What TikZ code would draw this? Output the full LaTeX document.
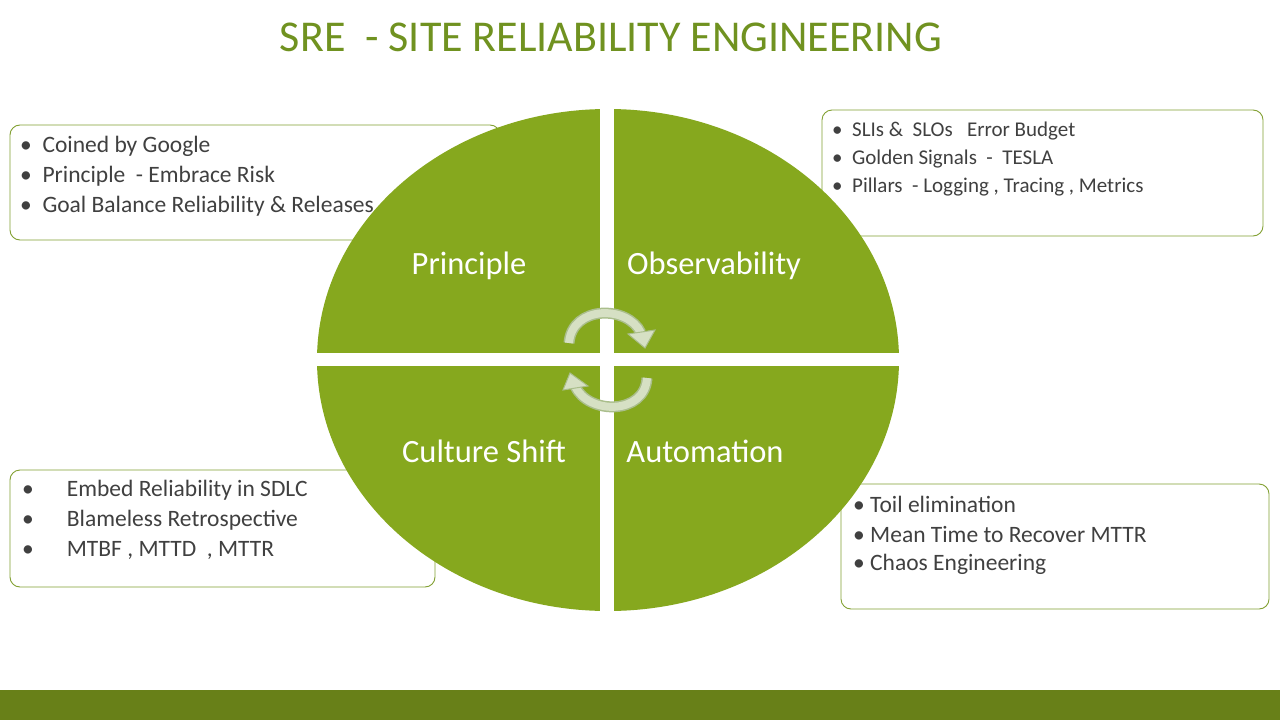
\documentclass[tikz,border=0pt]{standalone}
\usepackage{fontspec}
\setmainfont{Carlito}
\usetikzlibrary{arrows.meta}
\definecolor{grn}{RGB}{134,168,30}
\definecolor{ttl}{RGB}{112,146,32}
\definecolor{bar}{RGB}{104,128,24}
\definecolor{boxc}{RGB}{130,160,50}
\definecolor{txt}{RGB}{64,64,64}
\definecolor{arr}{RGB}{214,224,196}
\definecolor{arrd}{RGB}{170,190,140}
\tikzset{infobox/.style={draw=boxc,line width=0.9pt,rounded corners=10pt,fill=white},
 item/.style={anchor=west,text=txt,font=\fontsize{23.5}{26}\selectfont,inner sep=0pt},
 smitem/.style={item,font=\fontsize{21}{24}\selectfont},
 quad/.style={text=white,font=\fontsize{32.5}{36}\selectfont,inner sep=0pt},
 cyc/.style={draw=arrd,line width=11pt},
 cycin/.style={draw=arr,line width=8pt}}
\begin{document}
\begin{tikzpicture}[x=1pt,y=-1pt]
\useasboundingbox (0,0) rectangle (1280,720);
\fill[white] (0,0) rectangle (1280,720);
\fill[bar] (0,690) rectangle (1280,720);
\node[text=ttl,font=\fontsize{44}{48}\selectfont,inner sep=0pt] (title) at (611,37) {SRE\ \ - SITE RELIABILITY ENGINEERING};
% boxes
\draw[infobox] (10,125) rectangle (500,240);
\draw[infobox] (822,110) rectangle (1263,236);
\draw[infobox] (10,470) rectangle (435,587);
\draw[infobox] (841,484) rectangle (1269,609);
% text
\node[item] (a1) at (20,146) {•\ \ Coined by Google};
\node[item] (a2) at (20,176) {•\ \ Principle\ \ - Embrace Risk};
\node[item] (a3) at (20,206) {•\ \ Goal Balance Reliability \& Releases};
\node[smitem] (b1) at (832,131) {•\ \ SLIs \&\ \ SLOs\ \ \ Error Budget};
\node[smitem] (b2) at (832,159) {•\ \ Golden Signals\ \ -\ \ TESLA};
\node[smitem] (b3) at (832,187) {•\ \ Pillars\ \ - Logging , Tracing , Metrics};
\node[item] (c1) at (22,490) {•\hspace{33pt}Embed Reliability in SDLC};
\node[item] (c2) at (22,520) {•\hspace{33pt}Blameless Retrospective};
\node[item] (c3) at (22,550) {•\hspace{33pt}MTBF , MTTD\ \ , MTTR};
\node[item] (d1) at (853,504) {•\ Toil elimination};
\node[item] (d2) at (853,534) {•\ Mean Time to Recover MTTR};
\node[item] (d3) at (853,564) {•\ Chaos Engineering};
% ellipse
\fill[grn] (608,360) ellipse [x radius=291,y radius=251];
\fill[white] (600,100) rectangle (614,620);
\fill[white] (310,353) rectangle (905,366);
\node[quad] (q1) at (469,266) {Principle};
\node[quad] (q2) at (714,266) {Observability};
\node[quad] (q3) at (484,451) {Culture Shift};
\node[quad] (q4) at (705,451) {Automation};
% cycle arrows
\coordinate (u1) at (569,343); \coordinate (u2) at (641,333);
\coordinate (l1) at (647,378); \coordinate (l2) at (575,386);
\draw[cyc] (u1) .. controls (572,305) and (628,305) .. (u2);
\draw[cycin] (u1) .. controls (572,305) and (628,305) .. (u2);
\fill[arr,draw=arrd,line width=1pt] (628,334) -- (655,330) -- (645,348) -- cycle;
\draw[cyc] (l1) .. controls (645,415) and (588,415) .. (l2);
\draw[cycin] (l1) .. controls (645,415) and (588,415) .. (l2);
\fill[arr,draw=arrd,line width=1pt] (588,386) -- (563,390) -- (570,373) -- cycle;
\end{tikzpicture}
\end{document}
